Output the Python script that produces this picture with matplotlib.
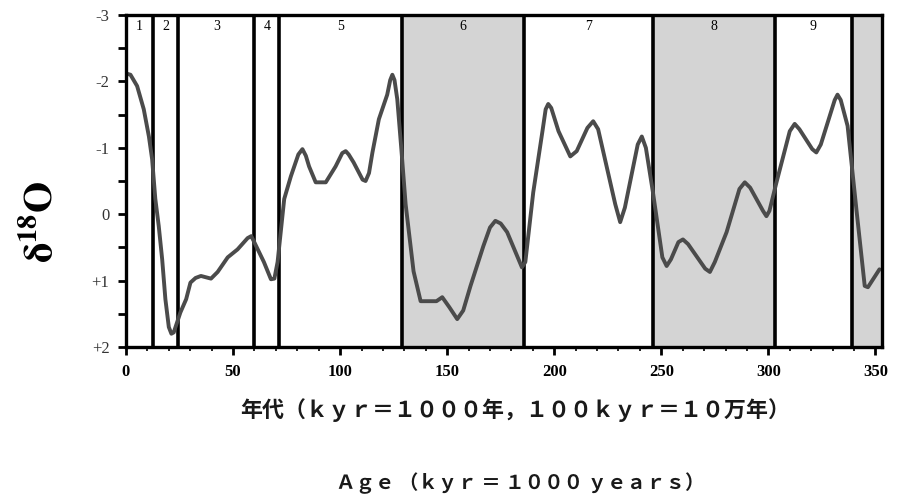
import matplotlib
matplotlib.use("Agg")
import matplotlib.pyplot as plt
from matplotlib.ticker import MultipleLocator, FixedLocator

# ---- data ----
age_kyr = [0, 2.1, 5.2, 8.3, 10.7, 12.2, 13.7, 15.3, 16.9, 18.4, 20.0, 21.2, 22.3, 25.4,
           28.1, 30.1, 32.5, 35.0, 39.7, 42.8, 47.5, 52.1, 56.8, 58.5, 59.9, 64.4, 67.7,
           69.3, 70.8, 73.9, 77.0, 80.5, 82.4, 84.0, 85.5, 88.6, 93.3, 97.9, 101.0,
           102.6, 104.0, 106.3, 110.5, 111.9, 113.5, 115.1, 118.1, 122.0, 123.4,
           124.4, 125.4, 126.7, 128.6, 130.6, 134.3, 137.6, 141.3, 145.0, 147.7,
           151.0, 154.7, 157.5, 160.9, 166.9, 170.0, 172.5, 175.0, 178.0, 184.9,
           186.5, 190.2, 194.5, 196.0, 197.2, 198.6, 202.0, 207.5, 210.5, 215.5,
           218.2, 220.5, 228.5, 230.8, 233.0, 239.0, 240.9, 242.8, 246.1, 250.5,
           252.5, 254.5, 258.0, 260.1, 262.5, 270.5, 272.7, 275.0, 280.5, 286.5,
           289.0, 291.5, 297.5, 299.1, 300.5, 303.8, 310.0, 312.3, 314.5, 320.5,
           322.4, 324.5, 331.0, 332.3, 333.8, 337.0, 341.1, 345.0, 346.5, 351.9]
d18o = [-2.12, -2.10, -1.93, -1.58, -1.17, -0.83, -0.23, 0.18, 0.68, 1.28, 1.70, 1.80, 1.78,
        1.48, 1.28, 1.03, 0.96, 0.93, 0.97, 0.87, 0.65, 0.53, 0.36, 0.33, 0.42, 0.72, 0.98,
        0.97, 0.72, -0.23, -0.57, -0.90, -0.98, -0.88, -0.72, -0.48, -0.48, -0.72, -0.92,
        -0.95, -0.90, -0.78, -0.52, -0.50, -0.62, -0.93, -1.43, -1.80, -2.02,
        -2.10, -2.02, -1.73, -0.98, -0.15, 0.86, 1.31, 1.31, 1.31, 1.25,
        1.40, 1.58, 1.45, 1.08, 0.48, 0.20, 0.10, 0.14, 0.27, 0.80,
        0.72, -0.33, -1.25, -1.58, -1.66, -1.60, -1.25, -0.87, -0.95, -1.30,
        -1.40, -1.28, -0.15, 0.12, -0.10, -1.05, -1.17, -1.00, -0.33, 0.65,
        0.78, 0.68, 0.42, 0.38, 0.45, 0.82, 0.87, 0.72, 0.27, -0.38,
        -0.48, -0.40, -0.05, 0.03, -0.05, -0.48, -1.25, -1.36, -1.28, -0.98,
        -0.93, -1.05, -1.72, -1.80, -1.72, -1.33, -0.08, 1.08, 1.10, 0.83]

stage_bounds = [0, 12.5, 24.5, 60, 71.5, 129, 186, 246, 303, 339, 353]
stage_labels = ["1", "2", "3", "4", "5", "6", "7", "8", "9"]
shaded_stages = [6, 8, 10]  # glacial stages shaded grey (10 = last partial stage)

x_ticks = [0, 50, 100, 150, 200, 250, 300, 350]
y_ticks = [-3, -2, -1, 0, 1, 2]
y_ticklabels = ["-3", "-2", "-1", "0", "+1", "+2"]

xlabel_jp = "年代（ｋｙｒ＝１０００年，１００ｋｙｒ＝１０万年）"
xlabel_en = "Ａｇｅ （ｋｙｒ ＝ １０００ ｙｅａｒｓ）"

# ---- figure ----
plt.rcParams["mathtext.fontset"] = "stix"
fig = plt.figure(figsize=(8.98, 4.98), dpi=100)
ax = fig.add_axes([0.1403, 0.3032, 0.982 - 0.1403, 0.9699 - 0.3032])

xmin, xmax = 0, 353
ax.set_xlim(xmin, xmax)
ax.set_ylim(2, -3)

# shaded glacial stages
for s in shaded_stages:
    lo = stage_bounds[s - 1]
    hi = stage_bounds[s] if s < len(stage_bounds) else xmax
    ax.axvspan(lo, hi, color="#d4d4d4", lw=0, zorder=0)

# stage boundaries
for b in stage_bounds[1:-1]:
    ax.axvline(b, color="black", lw=2.6, zorder=2)

# stage numbers
for i, lab in enumerate(stage_labels):
    xc = 0.5 * (stage_bounds[i] + stage_bounds[i + 1])
    ax.text(xc, -2.83, lab, ha="center", va="center", fontsize=10,
            family="Liberation Serif", zorder=4)

ax.plot(age_kyr, d18o, color="#4b4b4b", lw=2.8, solid_joinstyle="round",
        solid_capstyle="round", zorder=3)

for sp in ax.spines.values():
    sp.set_linewidth(2.4)
    sp.set_zorder(5)

ax.xaxis.set_major_locator(FixedLocator(x_ticks))
ax.xaxis.set_minor_locator(MultipleLocator(10))
ax.set_yticks(y_ticks)
ax.set_yticklabels(y_ticklabels)
ax.yaxis.set_minor_locator(MultipleLocator(0.5))
ax.tick_params(axis="both", which="major", direction="out", width=2, length=6,
               color="black")
ax.tick_params(axis="x", which="minor", direction="out", width=1.2, length=3)
ax.tick_params(axis="y", which="minor", direction="out", width=2, length=6)
ax.tick_params(axis="x", pad=6)
ax.tick_params(axis="y", pad=6)
for lab in ax.get_xticklabels():
    lab.set_family("Liberation Serif")
    lab.set_fontweight("bold")
    lab.set_fontsize(12)
for lab in ax.get_yticklabels():
    lab.set_family("Liberation Serif")
    lab.set_fontsize(12)
    lab.set_color("#333333")

fig.text(0.047, 0.556, r"$\mathbf{\delta^{18}O}$", rotation=90, ha="center",
         va="center", fontsize=29)

fig.text(0.5737, 0.177, xlabel_jp, ha="center", va="center", fontsize=15.8,
         family=["Noto Sans CJK JP", "DejaVu Sans"], fontweight="bold", color="#1a1a1a")
fig.text(0.5788, 0.030, xlabel_en, ha="center", va="center", fontsize=14,
         family=["Noto Sans CJK JP", "DejaVu Sans"], fontweight="bold", color="#1a1a1a")

fig.savefig("out.png", dpi=100)
